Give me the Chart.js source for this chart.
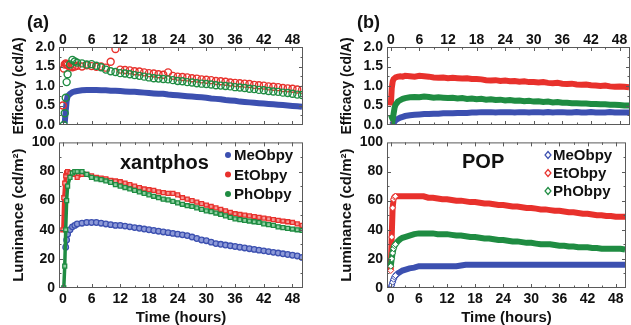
<!DOCTYPE html>
<html><head><meta charset="utf-8">
<script src="https://cdn.jsdelivr.net/npm/chart.js@4.4.1/dist/chart.umd.min.js"></script>
<style>
html,body{margin:0;padding:0;background:#fff;width:631px;height:325px;overflow:hidden}
canvas{position:absolute}
</style></head><body>
<canvas id="aTop" width="310" height="140" style="left:0;top:0"></canvas>
<canvas id="aBot" width="310" height="195" style="left:0;top:130px"></canvas>
<canvas id="bTop" width="303" height="140" style="left:328px;top:0"></canvas>
<canvas id="bBot" width="303" height="195" style="left:328px;top:130px"></canvas>
<script>
// ---------- DATA ----------
const hours = [0,0.2,0.4,0.6,0.8,1,1.5,2,2.5,3,4,5,6,7,8,9,10,11,12,13,14,15,16,17,18,19,20,21,22,23,24,25,26,27,28,29,30,31,32,33,34,35,36,37,38,39,40,41,42,43,44,45,46,47,48,49,50];
const seriesNames = ['MeObpy','EtObpy','PhObpy'];
const timeTicks = [0,6,12,18,24,30,36,42,48];
const effTicks = [0,0.5,1.0,1.5,2.0];
const lumTicks = [0,20,40,60,80,100];

// (a) xantphos – efficacy (cd/A)
const effMeA = [null,null,0.05,0.35,0.62,0.74,0.8,0.84,0.86,0.87,0.89,0.9,0.9,0.9,0.89,0.89,0.88,0.88,0.87,0.86,0.85,0.85,0.84,0.83,0.82,0.81,0.8,0.8,0.78,0.77,0.76,0.75,0.74,0.73,0.72,0.71,0.7,0.68,0.67,0.66,0.64,0.63,0.62,0.6,0.59,0.58,0.57,0.56,0.55,0.54,0.53,0.52,0.51,0.5,0.49,0.48,0.47];
const effEtA = [0.5,1.45,1.55,1.58,1.56,1.54,1.5,1.48,1.5,1.52,1.5,1.53,1.51,1.49,1.5,1.47,1.62,1.95,1.42,1.41,1.4,1.38,1.37,1.35,1.33,1.32,1.3,1.29,1.35,1.26,1.24,1.23,1.22,1.2,1.19,1.17,1.16,1.15,1.13,1.12,1.11,1.09,1.08,1.07,1.06,1.05,1.03,1.02,1.01,0.99,0.98,0.97,0.95,0.94,0.93,0.91,0.9];
const effPhA = [null,0.0,0.3,0.7,1.1,1.3,1.55,1.67,1.63,1.6,1.58,1.55,1.56,1.52,1.48,1.42,1.38,1.36,1.33,1.32,1.3,1.28,1.26,1.24,1.22,1.2,1.19,1.18,1.17,1.15,1.13,1.12,1.1,1.09,1.07,1.06,1.05,1.04,1.02,1.01,1.0,0.99,0.97,0.96,0.95,0.93,0.92,0.9,0.89,0.87,0.86,0.85,0.83,0.82,0.8,0.78,0.77];
// (a) xantphos – luminance (cd/m2)
const lumMeA = [null,null,null,28,33,37,40,42,43,44,44.5,45,45,45,44.5,44,43.5,43,43,42.5,42,41.5,41,40.5,40,39.5,39,38.5,38,37.5,37,36.5,36,35,34,33,32.5,31.5,30.5,30,29.5,29,28.5,28,27.5,27,26.5,26,25.5,25,24.5,24,23.5,23,22.5,22,21];
const lumEtA = [40,62,72,77,79,80,79,79,78,76,78,78,77,76,75.5,75,74,73.5,73,72,71,70,69,68,67.5,67,66,65.5,65,65,64,62,61,60,59,58,57,56,55,54,53,52,51,50.5,50,49.5,49,48.5,48,47.5,47,46.5,46,45.5,45,44,43];
const lumPhA = [null,0,15,40,60,70,76,79,80,80,80,78,76,75,74.5,73.5,72.5,71,70,69,68,67,66,65,64,63,62,61,60.5,59.5,58.5,57.5,56.5,56,55,54,53,52.5,51.5,50.5,49.5,48.5,47.5,47,46.5,46,45.5,45,44,43.5,43,42,41.5,41,40.5,40,39.5];

// (b) POP – efficacy (cd/A)
const effMeB = [null,0.0,0.03,0.06,0.09,0.12,0.16,0.19,0.21,0.23,0.25,0.26,0.27,0.28,0.28,0.29,0.29,0.3,0.3,0.3,0.31,0.31,0.31,0.32,0.32,0.33,0.33,0.33,0.32,0.33,0.33,0.33,0.32,0.33,0.33,0.32,0.33,0.33,0.32,0.33,0.32,0.33,0.33,0.32,0.32,0.33,0.32,0.32,0.33,0.32,0.32,0.32,0.33,0.32,0.32,0.32,0.32];
const effEtB = [0.5,0.95,1.12,1.18,1.2,1.22,1.24,1.25,1.24,1.26,1.25,1.24,1.26,1.25,1.24,1.22,1.21,1.22,1.2,1.21,1.2,1.19,1.2,1.18,1.18,1.17,1.15,1.14,1.15,1.13,1.14,1.12,1.13,1.11,1.12,1.1,1.1,1.09,1.1,1.08,1.07,1.08,1.06,1.05,1.06,1.04,1.03,1.04,1.02,1.01,1.0,1.01,0.99,0.98,0.99,0.98,0.97];
const effPhB = [0.28,0.2,0.15,0.3,0.45,0.52,0.6,0.64,0.67,0.69,0.71,0.72,0.71,0.73,0.72,0.7,0.71,0.7,0.69,0.7,0.68,0.69,0.67,0.68,0.66,0.67,0.65,0.66,0.64,0.65,0.63,0.64,0.62,0.63,0.61,0.62,0.6,0.61,0.59,0.6,0.58,0.59,0.57,0.57,0.56,0.56,0.55,0.55,0.54,0.54,0.53,0.53,0.52,0.52,0.51,0.5,0.5];
// (b) POP – luminance (cd/m2)
const lumMeB = [0,2,4,6,7.5,8.5,10,11,12,12.5,13.5,14,15,15,15,15,15,15,15,15,15,15.5,16,16,16,16,16,16,16,16,16,16,16,16,16,16,16,16,16,16,16,16,16,16,16,16,16,16,16,16,16,16,16,16,16,16,16];
const lumEtB = [12,35,55,61,62.5,63,63,63,63,63,63,63,63,63,62,62,61.5,61,61,60.5,60,60,59.5,59,59,58.5,58,58,57.5,57,57,56.5,56,56,55.5,55,55,54.5,54,54,53.5,53,53,52.5,52,52,51.5,51,51,50.5,50,50,49.5,49.5,49,49,49];
const lumPhB = [15,20,24,27,29,30,32,33.5,34.5,35,36,37,37.5,37.5,37.5,37.5,37,37,37,36.5,36,36,35.5,35,35,34.5,34,34,33.5,33,33,32.5,32,32,31.5,31,31,30.5,30,30,30,29.5,29,29,28.5,28.5,28,28,28,27.5,27.5,27,27,27,27,27,26.5];

// ---------- STYLE ----------
const BLUE = '#3c50b0', RED = '#e8312c', GREEN = '#1f8c42';
const FONT = "'Liberation Sans', Arial, sans-serif";
const pts = arr => hours.map((h, i) => ({x: h, y: arr[i]}));

const framePlugin = {
  id: 'frame',
  afterDatasetsDraw(chart, args, o) {
    const {ctx, chartArea: a, scales: {x, y}} = chart;
    ctx.save();
    ctx.strokeStyle = '#5a5a5a';
    ctx.lineWidth = 1;
    ctx.strokeRect(a.left + 0.5, a.top + 0.5, a.right - a.left - 1, a.bottom - a.top - 1);
    const xt = x.ticks.map(t => t.value), yt = y.ticks.map(t => t.value);
    const xs = [], ys = [];
    xt.forEach((v, i) => { xs.push([v, 4]); if (i < xt.length - 1) xs.push([(v + xt[i+1]) / 2, 2.5]); });
    xs.push([xt[xt.length-1] + (xt[1]-xt[0]) / 2, 2.5]);
    yt.forEach((v, i) => { ys.push([v, 4]); if (i < yt.length - 1) ys.push([(v + yt[i+1]) / 2, 2.5]); });
    ctx.beginPath();
    xs.forEach(([v, L]) => {
      const px = Math.round(x.getPixelForValue(v)) + 0.5;
      if (px <= a.left + 1 || px >= a.right - 1) return;
      ctx.moveTo(px, a.top); ctx.lineTo(px, a.top + L);
      ctx.moveTo(px, a.bottom); ctx.lineTo(px, a.bottom - L);
    });
    ys.forEach(([v, L]) => {
      const py = Math.round(y.getPixelForValue(v)) + 0.5;
      if (py <= a.top + 1 || py >= a.bottom - 1) return;
      ctx.moveTo(a.left, py); ctx.lineTo(a.left + L, py);
      ctx.moveTo(a.right, py); ctx.lineTo(a.right - L, py);
    });
    ctx.stroke();
    ctx.restore();
  },
  afterDraw(chart, args, o) {
    const ctx = chart.ctx;
    ctx.save();
    (o.texts || []).forEach(t => {
      ctx.font = t.font; ctx.fillStyle = '#111'; ctx.textBaseline = 'middle'; ctx.textAlign = 'left';
      ctx.fillText(t.text, t.x, t.y);
    });
    if (o.legend) {
      const L = o.legend;
      L.items.forEach((it, i) => {
        const cy = L.y + i * L.dy;
        ctx.fillStyle = '#111'; ctx.font = "bold 15px " + FONT; ctx.textBaseline = 'middle'; ctx.textAlign = 'left';
        ctx.fillText(it.label, L.tx, cy + 1);
        ctx.strokeStyle = it.color; ctx.lineWidth = 1.2;
        ctx.beginPath();
        if (L.marker === 'diamond') {
          ctx.moveTo(L.mx, cy - 3.5); ctx.lineTo(L.mx + 3, cy); ctx.lineTo(L.mx, cy + 3.5); ctx.lineTo(L.mx - 3, cy); ctx.closePath();
          ctx.fillStyle = '#fff'; ctx.fill(); ctx.stroke();
        } else {
          ctx.arc(L.mx, cy, 3, 0, Math.PI * 2);
          ctx.fillStyle = it.color; ctx.fill();
        }
      });
    }
    ctx.restore();
  }
};

function tickFix(values) {
  return scale => { scale.ticks = values.map(v => ({value: v})); };
}

function makeChart(id, opt) {
  const isTop = opt.top;
  return new Chart(document.getElementById(id), {
    type: 'line',
    data: {datasets: opt.datasets},
    plugins: [framePlugin],
    options: {
      responsive: false, animation: false, devicePixelRatio: 1,
      layout: {padding: opt.padding},
      plugins: {legend: {display: false}, tooltip: {enabled: false},
        frame: {texts: opt.texts, legend: opt.legend}},
      elements: {line: {tension: 0}},
      scales: {
        x: {
          type: 'linear', position: isTop ? 'top' : 'bottom', min: -0.8, max: 50.2,
          afterBuildTicks: tickFix(timeTicks),
          afterFit: s => { s.height = isTop ? 47 : 37; },
          grid: {display: false, drawTicks: false}, border: {display: false},
          ticks: {color: '#111', font: {family: FONT, size: 14, weight: 'bold'}, padding: isTop ? -2 : 3, maxRotation: 0, autoSkip: false},
          title: {display: !isTop, text: 'Time (hours)', color: '#111', font: {family: FONT, size: 15, weight: 'bold', lineHeight: 1}, padding: 0}
        },
        y: {
          type: 'linear', min: opt.ymin, max: opt.ymax,
          afterBuildTicks: tickFix(opt.yticks),
          afterFit: s => { s.width = 59; },
          grid: {display: false, drawTicks: false}, border: {display: false},
          ticks: {color: '#111', font: {family: FONT, size: 14, weight: 'bold'}, padding: 4, autoSkip: false,
            callback: v => opt.fmt(v)},
          title: {display: true, text: opt.ytitle, color: '#111', font: {family: FONT, size: opt.tsize, weight: 'bold'}, padding: {top: opt.tpad, bottom: 0}}
        }
      }
    }
  });
}

function bandLine(label, data, color, width, order) {
  return {label, data: pts(data), borderColor: color, backgroundColor: color, borderWidth: width, pointRadius: 0, order, spanGaps: false};
}
function openCircles(label, data, color, order) {
  return {label, data: pts(data), showLine: false, borderColor: color, pointBorderColor: color, pointBackgroundColor: 'rgba(255,255,255,0)', pointRadius: 3.5, pointBorderWidth: 1.4, pointStyle: 'circle', order};
}
function markLine(label, data, color, light, style, order) {
  return {label, data: pts(data), borderColor: color, borderWidth: 3.5, pointStyle: style, pointRadius: 2.8, pointBorderWidth: 1.3, pointBorderColor: color, pointBackgroundColor: light, order};
}
function diamondLine(label, data, color, order) {
  return {label, data: pts(data), borderColor: color, borderWidth: 6, pointStyle: 'rectRot',
    pointRadius: c => (c.raw && c.raw.x < 1.2) ? 3 : 0, pointBorderWidth: 1, pointBorderColor: color, pointBackgroundColor: '#ffffff', order};
}

const effFmt = v => v.toFixed(1);
const lumFmt = v => String(v);

makeChart('aTop', {
  top: true, padding: {top: 0, right: 7, bottom: 15, left: 0}, tsize: 14, tpad: 11,
  ymin: 0, ymax: 2.0, yticks: effTicks, fmt: effFmt, ytitle: 'Efficacy (cd/A)',
  datasets: [
    bandLine(seriesNames[0], effMeA, BLUE, 6, 2),
    openCircles(seriesNames[1], effEtA, RED, 1),
    openCircles(seriesNames[2], effPhA, GREEN, 0)
  ],
  texts: [{text: '(a)', x: 27, y: 23, font: "bold 18px " + FONT}]
});

makeChart('aBot', {
  top: false, padding: {top: 12, right: 7, bottom: 0, left: 0}, tsize: 15, tpad: 10,
  ymin: 0, ymax: 100, yticks: lumTicks, fmt: lumFmt, ytitle: 'Luminance (cd/m\u00B2)',
  datasets: [
    markLine(seriesNames[0], lumMeA, BLUE, '#8d9ad8', 'circle', 2),
    markLine(seriesNames[1], lumEtA, RED, '#f59b97', 'rect', 1),
    markLine(seriesNames[2], lumPhA, GREEN, '#8fd0a2', 'rect', 0)
  ],
  texts: [{text: 'xantphos', x: 120, y: 33, font: "bold 20px " + FONT}],
  legend: {mx: 228, tx: 234, y: 25, dy: 19.5, marker: 'dot',
    items: [{label: seriesNames[0], color: BLUE}, {label: seriesNames[1], color: RED}, {label: seriesNames[2], color: GREEN}]}
});

makeChart('bTop', {
  top: true, padding: {top: 0, right: 1, bottom: 15, left: 0}, tsize: 14, tpad: 11,
  ymin: 0, ymax: 2.0, yticks: effTicks, fmt: effFmt, ytitle: 'Efficacy (cd/A)',
  datasets: [
    bandLine(seriesNames[0], effMeB, BLUE, 6, 2),
    bandLine(seriesNames[1], effEtB, RED, 6, 1),
    bandLine(seriesNames[2], effPhB, GREEN, 6, 0)
  ],
  texts: [{text: '(b)', x: 29, y: 23, font: "bold 18px " + FONT}]
});

makeChart('bBot', {
  top: false, padding: {top: 12, right: 1, bottom: 0, left: 0}, tsize: 15, tpad: 10,
  ymin: 0, ymax: 100, yticks: lumTicks, fmt: lumFmt, ytitle: 'Luminance (cd/m\u00B2)',
  datasets: [
    diamondLine(seriesNames[0], lumMeB, BLUE, 2),
    diamondLine(seriesNames[1], lumEtB, RED, 1),
    diamondLine(seriesNames[2], lumPhB, GREEN, 0)
  ],
  texts: [{text: 'POP', x: 134, y: 32, font: "bold 20px " + FONT}],
  legend: {mx: 220, tx: 225, y: 25, dy: 18, marker: 'diamond',
    items: [{label: seriesNames[0], color: BLUE}, {label: seriesNames[1], color: RED}, {label: seriesNames[2], color: GREEN}]}
});
</script>
</body></html>
